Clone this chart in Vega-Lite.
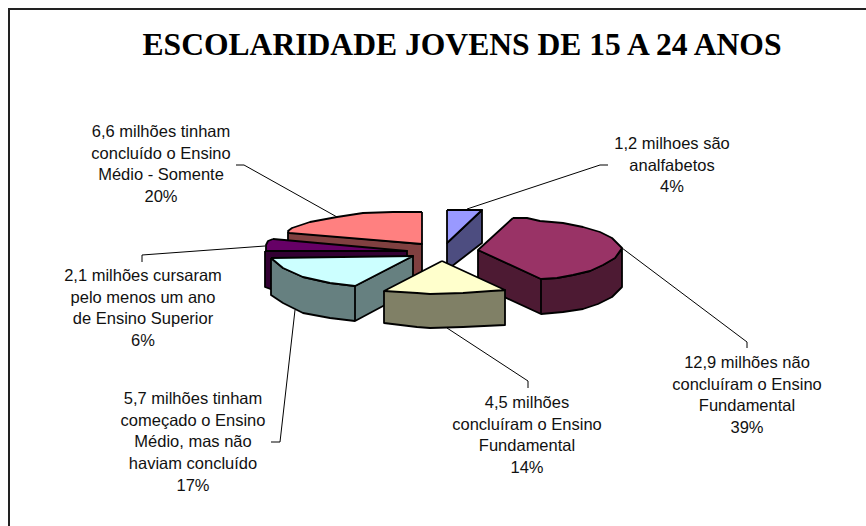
{
"$schema":"https://vega.github.io/schema/vega-lite/v6.json",
"width":866,"height":526,"padding":0,"autosize":"none","background":"white",
"config":{"view":{"stroke":null}},
"title":{"text":"ESCOLARIDADE JOVENS DE 15 A 24 ANOS","font":"Liberation Serif","fontSize":31.6,"fontWeight":"bold","color":"black","anchor":"middle","dx":29,"dy":87,"offset":0,"baseline":"alphabetic"},
"datasets":{
"frame":[{"x":9,"y":9,"x2":9,"y2":526},{"x":8,"y":9,"x2":866,"y2":9}],
"faces":[
{"face":"analfabetos lado","pt":1,"x":447,"y":243},{"face":"analfabetos lado","pt":2,"x":482,"y":210},{"face":"analfabetos lado","pt":3,"x":482,"y":243},{"face":"analfabetos lado","pt":4,"x":447,"y":270},{"face":"analfabetos lado","pt":5,"x":447,"y":243},
{"face":"analfabetos topo","pt":1,"x":447,"y":210},{"face":"analfabetos topo","pt":2,"x":482,"y":210},{"face":"analfabetos topo","pt":3,"x":447,"y":243},{"face":"analfabetos topo","pt":4,"x":447,"y":210},
{"face":"medio lado","pt":1,"x":288,"y":232},{"face":"medio lado","pt":2,"x":422,"y":244},{"face":"medio lado","pt":3,"x":422,"y":278},{"face":"medio lado","pt":4,"x":380,"y":292},{"face":"medio lado","pt":5,"x":288,"y":248},{"face":"medio lado","pt":6,"x":288,"y":232},
{"face":"medio topo","pt":1,"x":422,"y":212},{"face":"medio topo","pt":2,"x":422,"y":244},{"face":"medio topo","pt":3,"x":289,"y":233},{"face":"medio topo","pt":4,"x":288,"y":231},{"face":"medio topo","pt":5,"x":292,"y":228},{"face":"medio topo","pt":6,"x":310,"y":222},{"face":"medio topo","pt":7,"x":337,"y":217},{"face":"medio topo","pt":8,"x":363,"y":213},{"face":"medio topo","pt":9,"x":393,"y":212},{"face":"medio topo","pt":10,"x":422,"y":212},
{"face":"superior lado","pt":1,"x":265,"y":251},{"face":"superior lado","pt":2,"x":407,"y":251},{"face":"superior lado","pt":3,"x":407,"y":258},{"face":"superior lado","pt":4,"x":300,"y":300},{"face":"superior lado","pt":5,"x":265,"y":287},{"face":"superior lado","pt":6,"x":265,"y":251},
{"face":"superior topo","pt":1,"x":273,"y":239},{"face":"superior topo","pt":2,"x":407,"y":251},{"face":"superior topo","pt":3,"x":266,"y":251},{"face":"superior topo","pt":4,"x":266,"y":245},{"face":"superior topo","pt":5,"x":268,"y":241},{"face":"superior topo","pt":6,"x":273,"y":239},
{"face":"nao concluiu lado","pt":1,"x":478,"y":250},{"face":"nao concluiu lado","pt":2,"x":541,"y":279},{"face":"nao concluiu lado","pt":3,"x":557,"y":278},{"face":"nao concluiu lado","pt":4,"x":573,"y":275},{"face":"nao concluiu lado","pt":5,"x":590,"y":271},{"face":"nao concluiu lado","pt":6,"x":603,"y":265},{"face":"nao concluiu lado","pt":7,"x":615,"y":258},{"face":"nao concluiu lado","pt":8,"x":622,"y":249},{"face":"nao concluiu lado","pt":9,"x":622,"y":287},{"face":"nao concluiu lado","pt":10,"x":612,"y":297},{"face":"nao concluiu lado","pt":11,"x":598,"y":304},{"face":"nao concluiu lado","pt":12,"x":583,"y":309},{"face":"nao concluiu lado","pt":13,"x":563,"y":312},{"face":"nao concluiu lado","pt":14,"x":541,"y":314},{"face":"nao concluiu lado","pt":15,"x":478,"y":285},{"face":"nao concluiu lado","pt":16,"x":478,"y":250},
{"face":"nao concluiu aresta","pt":1,"x":541,"y":279},{"face":"nao concluiu aresta","pt":2,"x":541,"y":314},
{"face":"nao concluiu topo","pt":1,"x":513,"y":218},{"face":"nao concluiu topo","pt":2,"x":527,"y":218},{"face":"nao concluiu topo","pt":3,"x":540,"y":221},{"face":"nao concluiu topo","pt":4,"x":563,"y":223},{"face":"nao concluiu topo","pt":5,"x":583,"y":227},{"face":"nao concluiu topo","pt":6,"x":600,"y":232},{"face":"nao concluiu topo","pt":7,"x":612,"y":238},{"face":"nao concluiu topo","pt":8,"x":622,"y":248},{"face":"nao concluiu topo","pt":9,"x":615,"y":258},{"face":"nao concluiu topo","pt":10,"x":603,"y":265},{"face":"nao concluiu topo","pt":11,"x":590,"y":271},{"face":"nao concluiu topo","pt":12,"x":573,"y":275},{"face":"nao concluiu topo","pt":13,"x":557,"y":278},{"face":"nao concluiu topo","pt":14,"x":541,"y":279},{"face":"nao concluiu topo","pt":15,"x":478,"y":250},{"face":"nao concluiu topo","pt":16,"x":513,"y":218},
{"face":"comecou lado","pt":1,"x":271,"y":258},{"face":"comecou lado","pt":2,"x":283,"y":268},{"face":"comecou lado","pt":3,"x":303,"y":277},{"face":"comecou lado","pt":4,"x":330,"y":283},{"face":"comecou lado","pt":5,"x":355,"y":286},{"face":"comecou lado","pt":6,"x":413,"y":256},{"face":"comecou lado","pt":7,"x":413,"y":290},{"face":"comecou lado","pt":8,"x":355,"y":321},{"face":"comecou lado","pt":9,"x":330,"y":318},{"face":"comecou lado","pt":10,"x":303,"y":313},{"face":"comecou lado","pt":11,"x":283,"y":303},{"face":"comecou lado","pt":12,"x":271,"y":295},{"face":"comecou lado","pt":13,"x":271,"y":258},
{"face":"comecou aresta","pt":1,"x":355,"y":286},{"face":"comecou aresta","pt":2,"x":355,"y":321},
{"face":"comecou topo","pt":1,"x":271,"y":258},{"face":"comecou topo","pt":2,"x":413,"y":256},{"face":"comecou topo","pt":3,"x":355,"y":286},{"face":"comecou topo","pt":4,"x":330,"y":283},{"face":"comecou topo","pt":5,"x":303,"y":277},{"face":"comecou topo","pt":6,"x":283,"y":268},{"face":"comecou topo","pt":7,"x":271,"y":258},
{"face":"fundamental lado","pt":1,"x":384,"y":291},{"face":"fundamental lado","pt":2,"x":505,"y":290},{"face":"fundamental lado","pt":3,"x":505,"y":325},{"face":"fundamental lado","pt":4,"x":463,"y":327},{"face":"fundamental lado","pt":5,"x":430,"y":328},{"face":"fundamental lado","pt":6,"x":417,"y":327},{"face":"fundamental lado","pt":7,"x":384,"y":323},{"face":"fundamental lado","pt":8,"x":384,"y":291},
{"face":"fundamental topo","pt":1,"x":442,"y":261},{"face":"fundamental topo","pt":2,"x":505,"y":290},{"face":"fundamental topo","pt":3,"x":463,"y":293},{"face":"fundamental topo","pt":4,"x":430,"y":294},{"face":"fundamental topo","pt":5,"x":417,"y":293},{"face":"fundamental topo","pt":6,"x":384,"y":291},{"face":"fundamental topo","pt":7,"x":442,"y":261}
],
"leaders":[
{"id":"medio","pt":1,"x":236,"y":165},{"id":"medio","pt":2,"x":244,"y":165},{"id":"medio","pt":3,"x":337,"y":217},
{"id":"analfabetos","pt":1,"x":608,"y":165},{"id":"analfabetos","pt":2,"x":600,"y":165},{"id":"analfabetos","pt":3,"x":467,"y":209},
{"id":"nao concluiu","pt":1,"x":622,"y":248},{"id":"nao concluiu","pt":2,"x":747,"y":342},{"id":"nao concluiu","pt":3,"x":747,"y":348},
{"id":"fundamental","pt":1,"x":447,"y":328},{"id":"fundamental","pt":2,"x":528,"y":381},{"id":"fundamental","pt":3,"x":528,"y":388},
{"id":"comecou","pt":1,"x":295,"y":310},{"id":"comecou","pt":2,"x":280,"y":442},{"id":"comecou","pt":3,"x":271,"y":442},
{"id":"superior","pt":1,"x":265,"y":246},{"id":"superior","pt":2,"x":142,"y":255},{"id":"superior","pt":3,"x":142,"y":262}
],
"labels":[
{"x":161,"y":137,"label":"6,6 milhões tinham\nconcluído o Ensino\nMédio - Somente\n20%"},
{"x":672,"y":149,"label":"1,2 milhoes são\nanalfabetos\n4%"},
{"x":143,"y":281,"label":"2,1 milhões cursaram\npelo menos um ano\nde Ensino Superior\n6%"},
{"x":193,"y":404,"label":"5,7 milhões tinham\ncomeçado o Ensino\nMédio, mas não\nhaviam concluído\n17%"},
{"x":527,"y":408,"label":"4,5 milhões\nconcluíram o Ensino\nFundamental\n14%"},
{"x":747,"y":368,"label":"12,9 milhões não\nconcluíram o Ensino\nFundamental\n39%"}
]
},
"layer":[
{"data":{"name":"frame"},"mark":{"type":"rule","stroke":"#222222","strokeWidth":2},
 "encoding":{"x":{"field":"x","type":"quantitative","scale":{"domain":[0,866],"nice":false,"zero":false},"axis":null},"y":{"field":"y","type":"quantitative","scale":{"domain":[526,0],"nice":false,"zero":false},"axis":null},"x2":{"field":"x2"},"y2":{"field":"y2"}}},
{"data":{"name":"faces"},"mark":{"type":"line","filled":true,"stroke":"black","strokeWidth":1.8,"strokeJoin":"round"},
 "encoding":{"x":{"field":"x","type":"quantitative","scale":{"domain":[0,866],"nice":false,"zero":false},"axis":null},"y":{"field":"y","type":"quantitative","scale":{"domain":[526,0],"nice":false,"zero":false},"axis":null},"order":{"field":"pt","type":"quantitative"},
 "fill":{"field":"face","type":"nominal","legend":null,"sort":null,"scale":{"domain":["analfabetos lado","analfabetos topo","medio lado","medio topo","superior lado","superior topo","nao concluiu lado","nao concluiu aresta","nao concluiu topo","comecou lado","comecou aresta","comecou topo","fundamental lado","fundamental topo"],"range":["#4D4D80","#9999FF","#804040","#FF8080","#330033","#660066","#4D1A33","#4D1A33","#993366","#668080","#668080","#CCFFFF","#808066","#FFFFCC"]}}}},
{"data":{"name":"leaders"},"mark":{"type":"line","stroke":"black","strokeWidth":1},
 "encoding":{"x":{"field":"x","type":"quantitative","scale":{"domain":[0,866],"nice":false,"zero":false},"axis":null},"y":{"field":"y","type":"quantitative","scale":{"domain":[526,0],"nice":false,"zero":false},"axis":null},"order":{"field":"pt","type":"quantitative"},"detail":{"field":"id"}}},
{"data":{"name":"labels"},"mark":{"type":"text","font":"Liberation Sans","fontSize":16.5,"lineBreak":"\n","lineHeight":21.7,"align":"center","baseline":"alphabetic","color":"#111111"},
 "encoding":{"x":{"field":"x","type":"quantitative","scale":{"domain":[0,866],"nice":false,"zero":false},"axis":null},"y":{"field":"y","type":"quantitative","scale":{"domain":[526,0],"nice":false,"zero":false},"axis":null},"text":{"field":"label","type":"nominal"}}}
]
}
